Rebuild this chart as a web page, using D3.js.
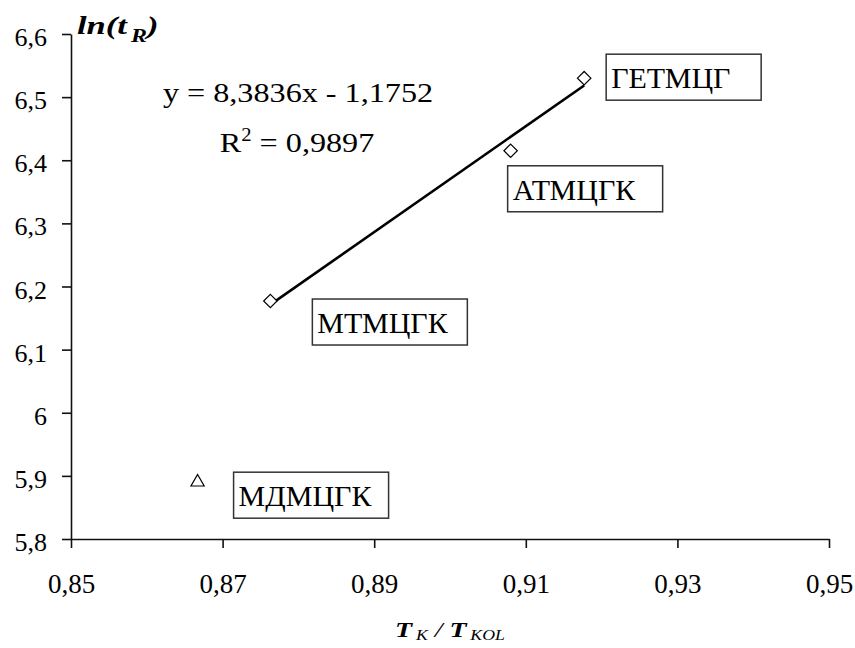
<!DOCTYPE html>
<html>
<head>
<meta charset="utf-8">
<script src="https://cdn.jsdelivr.net/npm/d3@7"></script>
<style>
	body { margin: 0; background: #fff; }
	svg { display: block; }
</style>
</head>
<body>
<div id="chart"></div>
<script>
// data
const names = ['МДМЦГК', 'МТМЦГК', 'АТМЦГК', 'ГЕТМЦГ'];
const ratio = [0.8667, 0.8763, 0.9080, 0.9177];   // T_K / T_KOL
const lnT = [5.890, 6.177, 6.415, 6.530];         // ln(t_R)
const shapes = ['triangle', 'diamond', 'diamond', 'diamond'];
const xTicks = [0.85, 0.87, 0.89, 0.91, 0.93, 0.95];
const yTicks = [5.8, 5.9, 6.0, 6.1, 6.2, 6.3, 6.4, 6.5, 6.6];
const fitSlope = 8.3836;
const fitIntercept = -1.1752;
const fitR2 = 0.9897;

const WIDTH = 855;
const HEIGHT = 648;
const SERIF = "'Liberation Serif', 'Times New Roman', serif";
const margin = { top: 34, right: 26, bottom: 109, left: 71 };
// the original picture is a bit wider than tall, so its text looks stretched
const STRETCH = 1.15;

// where each label box sits, relative to its point
const labelOffset = {
	'МДМЦГК': [36, -10],
	'МТМЦГК': [42, -2],
	'АТМЦГК': [-3, 15],
	'ГЕТМЦГ': [22, -24],
};
const BOX_W = 155;
const BOX_H = 46;

const comma = (v) => String(+v.toFixed(4)).replace('.', ',');

const svg = d3.select('#chart')
	.append('svg')
	.attr('width', WIDTH)
	.attr('height', HEIGHT);

const x = d3.scaleLinear()
	.domain([0.85, 0.95])
	.range([margin.left, WIDTH - margin.right]);
const y = d3.scaleLinear()
	.domain([5.8, 6.6])
	.range([HEIGHT - margin.bottom, margin.top]);

// X axis
const xAxis = svg.append('g')
	.attr('transform', `translate(0,${HEIGHT - margin.bottom})`)
	.call(d3.axisBottom(x).tickValues(xTicks).tickFormat(comma).tickSize(9).tickSizeOuter(0));
xAxis.selectAll('text')
	.attr('y', 54)
	.attr('dy', 0)
	.attr('fill', '#000')
	.style('font-size', '27px');

// Y axis
const yAxis = svg.append('g')
	.attr('transform', `translate(${margin.left},0)`)
	.call(d3.axisLeft(y).tickValues(yTicks).tickFormat(comma).tickSize(9).tickSizeOuter(0));
yAxis.selectAll('text')
	.attr('x', -24)
	.attr('dy', 11.5)
	.attr('fill', '#000')
	.style('font-size', '26px');

svg.selectAll('.domain, .tick line')
	.attr('stroke', '#111')
	.attr('stroke-width', 1.6);

// trend line over the diamond points
const fitX = ratio.filter((_, i) => shapes[i] === 'diamond');
const x0 = d3.min(fitX);
const x1 = d3.max(fitX);
svg.append('line')
	.attr('x1', x(x0))
	.attr('y1', y(fitSlope * x0 + fitIntercept))
	.attr('x2', x(x1))
	.attr('y2', y(fitSlope * x1 + fitIntercept))
	.attr('stroke', '#000')
	.attr('stroke-width', 2.6);

// markers
const points = names.map((name, i) => ({ name, x: ratio[i], y: lnT[i], shape: shapes[i] }));
const diamond = d3.symbol().type(d3.symbolDiamond2).size(115);
const triangle = d3.symbol().type(d3.symbolTriangle2).size(125);

svg.selectAll('.point')
	.data(points)
	.join('path')
	.attr('class', 'point')
	.attr('transform', (d) => `translate(${x(d.x)},${y(d.y)})`)
	.attr('d', (d) => d.shape === 'diamond' ? diamond() : triangle())
	.attr('fill', '#fff')
	.attr('stroke', '#000')
	.attr('stroke-width', 1.2);

// label boxes
const labels = svg.selectAll('.label')
	.data(points)
	.join('g')
	.attr('class', 'label')
	.attr('transform', (d) => {
		const off = labelOffset[d.name];
		return `translate(${x(d.x) + off[0]},${y(d.y) + off[1]})`;
	});
labels.append('rect')
	.attr('width', BOX_W)
	.attr('height', BOX_H)
	.attr('fill', '#fff')
	.attr('stroke', '#333')
	.attr('stroke-width', 1.5);
labels.append('text')
	.attr('x', 5)
	.attr('y', BOX_H / 2 + 11)
	.style('font-size', '30px')
	.text((d) => d.name);

// regression text
svg.append('text')
	.attr('transform', `translate(298,102) scale(${STRETCH},1)`)
	.attr('text-anchor', 'middle')
	.style('font-size', '28px')
	.text(`y = ${comma(fitSlope)}x - ${comma(-fitIntercept)}`);
const r2 = svg.append('text')
	.attr('transform', `translate(297,152) scale(${STRETCH},1)`)
	.attr('text-anchor', 'middle')
	.style('font-size', '28px');
r2.append('tspan').text('R');
r2.append('tspan').attr('dy', -11).style('font-size', '18px').text('2');
r2.append('tspan').attr('dy', 11).text(` = ${comma(fitR2)}`);

// axis titles
const yTitle = svg.append('text')
	.attr('transform', 'translate(77,34) scale(1.33,1)')
	.style('font-size', '26px')
	.style('font-weight', 'bold')
	.style('font-style', 'italic');
yTitle.append('tspan').text('ln(t');
yTitle.append('tspan').attr('dx', 3).attr('dy', 8).style('font-size', '18px').text('R');
yTitle.append('tspan').attr('dy', -8).text(')');

const xTitle = svg.append('text')
	.attr('transform', `translate(${(margin.left + WIDTH - margin.right) / 2},637) scale(1.27,1)`)
	.attr('text-anchor', 'middle')
	.style('font-size', '22px')
	.style('font-style', 'italic');
xTitle.append('tspan').style('font-weight', 'bold').text('T');
xTitle.append('tspan').attr('dx', 3).attr('dy', 3).style('font-size', '14px').text('K');
xTitle.append('tspan').attr('dy', -3).text(' / ');
xTitle.append('tspan').style('font-weight', 'bold').text('T');
xTitle.append('tspan').attr('dx', 3).attr('dy', 3).style('font-size', '14px').text('KOL');

// every text in Times-like serif, set inline so nothing overrides it
svg.selectAll('text, tspan').style('font-family', SERIF);
</script>
</body>
</html>
